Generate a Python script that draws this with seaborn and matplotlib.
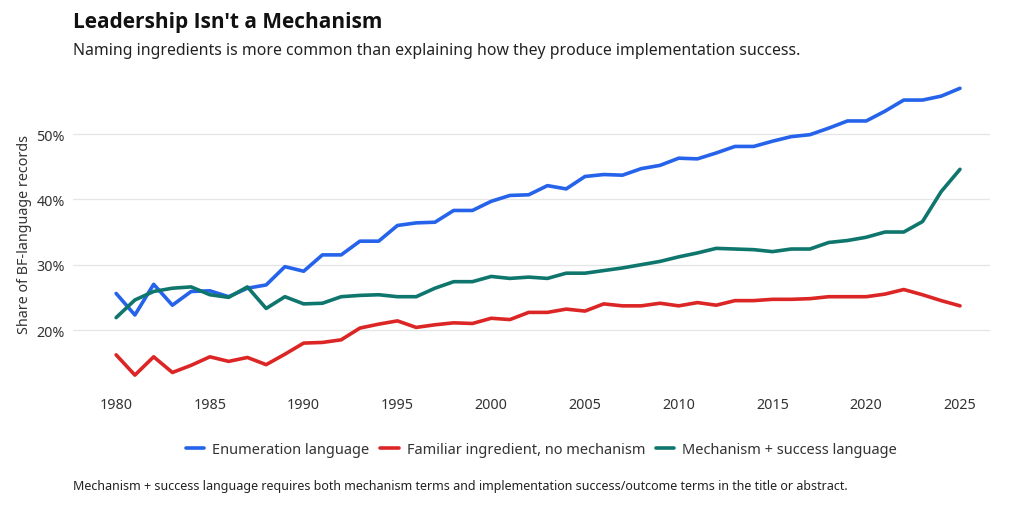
import numpy as np
import pandas as pd
import matplotlib
matplotlib.use("Agg")
import matplotlib.pyplot as plt
import seaborn as sns
from matplotlib.ticker import FuncFormatter

YEARS = list(range(1980, 2026))

ENUMERATION = [
    25.6, 22.3, 27.0, 23.8, 25.9, 26.0, 25.1, 26.4, 26.9, 29.7,
    29.0, 31.5, 31.5, 33.6, 33.6, 36.0, 36.4, 36.5, 38.3, 38.3,
    39.7, 40.6, 40.7, 42.1, 41.6, 43.5, 43.8, 43.7, 44.7, 45.2,
    46.3, 46.2, 47.1, 48.1, 48.1, 48.9, 49.6, 49.9, 50.9, 52.0,
    52.0, 53.5, 55.2, 55.2, 55.8, 57.0,
]
FAMILIAR = [
    16.2, 13.1, 15.9, 13.5, 14.6, 15.9, 15.2, 15.8, 14.7, 16.3,
    18.0, 18.1, 18.5, 20.3, 20.9, 21.4, 20.4, 20.8, 21.1, 21.0,
    21.8, 21.6, 22.7, 22.7, 23.2, 22.9, 24.0, 23.7, 23.7, 24.1,
    23.7, 24.2, 23.8, 24.5, 24.5, 24.7, 24.7, 24.8, 25.1, 25.1,
    25.1, 25.5, 26.2, 25.4, 24.5, 23.7,
]
MECHANISM = [
    21.9, 24.6, 25.9, 26.4, 26.6, 25.4, 25.0, 26.6, 23.3, 25.1,
    24.0, 24.1, 25.1, 25.3, 25.4, 25.1, 25.1, 26.4, 27.4, 27.4,
    28.2, 27.9, 28.1, 27.9, 28.7, 28.7, 29.1, 29.5, 30.0, 30.5,
    31.2, 31.8, 32.5, 32.4, 32.3, 32.0, 32.4, 32.4, 33.4, 33.7,
    34.2, 35.0, 35.0, 36.6, 41.2, 44.6,
]

SERIES_NAMES = [
    "Enumeration language",
    "Familiar ingredient, no mechanism",
    "Mechanism + success language",
]
COLORS = ["#2563eb", "#dc2626", "#0f766e"]

TITLE = "Leadership Isn't a Mechanism"
SUBTITLE = "Naming ingredients is more common than explaining how they produce implementation success."
FOOTNOTE = ("Mechanism + success language requires both mechanism terms and "
            "implementation success/outcome terms in the title or abstract.")
Y_LABEL = "Share of BF-language records"
X_TICKS = list(range(1980, 2026, 5))
Y_TICKS = [20, 30, 40, 50]


def build_frame():
    frames = []
    for name, values in zip(SERIES_NAMES, [ENUMERATION, FAMILIAR, MECHANISM]):
        frames.append(pd.DataFrame({"year": YEARS, "share": values, "series": name}))
    return pd.concat(frames, ignore_index=True)


def main():
    sns.set_theme(style="whitegrid")
    plt.rcParams["font.family"] = ["Noto Sans", "DejaVu Sans"]

    df = build_frame()

    fig = plt.figure(figsize=(10.24, 5.06), dpi=100)
    ax = fig.add_axes([0.0713, 0.2296, 0.8955, 0.6133])

    sns.lineplot(
        data=df, x="year", y="share", hue="series",
        hue_order=SERIES_NAMES, palette=COLORS,
        linewidth=2.6, ax=ax, legend=True,
    )

    ax.set_xlim(1977.7, 2026.6)
    ax.set_ylim(11, 58.5)
    ax.set_xticks(X_TICKS)
    ax.set_yticks(Y_TICKS)
    ax.yaxis.set_major_formatter(FuncFormatter(lambda v, _: f"{v:.0f}%"))
    ax.tick_params(axis="both", length=0, labelsize=10.3, colors="#333333", pad=6)
    ax.grid(axis="y", color="#e5e5e5", linewidth=0.9)
    ax.grid(axis="x", visible=False)
    for spine in ax.spines.values():
        spine.set_visible(False)

    ax.set_xlabel("")
    ax.set_ylabel(Y_LABEL, fontsize=10.3, color="#333333", labelpad=3)

    handles, labels = ax.get_legend_handles_labels()
    ax.legend(
        handles, labels, loc="center", bbox_to_anchor=(0.511, -0.195),
        ncol=3, frameon=False, fontsize=10.5, handlelength=1.25,
        columnspacing=0.75, handletextpad=0.55, labelcolor="#333333",
    )

    fig.text(0.0713, 0.955, TITLE, fontsize=15, fontweight="bold",
             family=["Open Sans", "DejaVu Sans"],
             color="#111111", va="center", ha="left")
    fig.text(0.0713, 0.899, SUBTITLE, fontsize=11.4, color="#222222",
             va="center", ha="left")
    fig.text(0.0713, 0.038, FOOTNOTE, fontsize=9.0, color="#222222",
             va="center", ha="left")

    fig.savefig("out.png", dpi=100, facecolor="white")
    plt.close(fig)


if __name__ == "__main__":
    main()
